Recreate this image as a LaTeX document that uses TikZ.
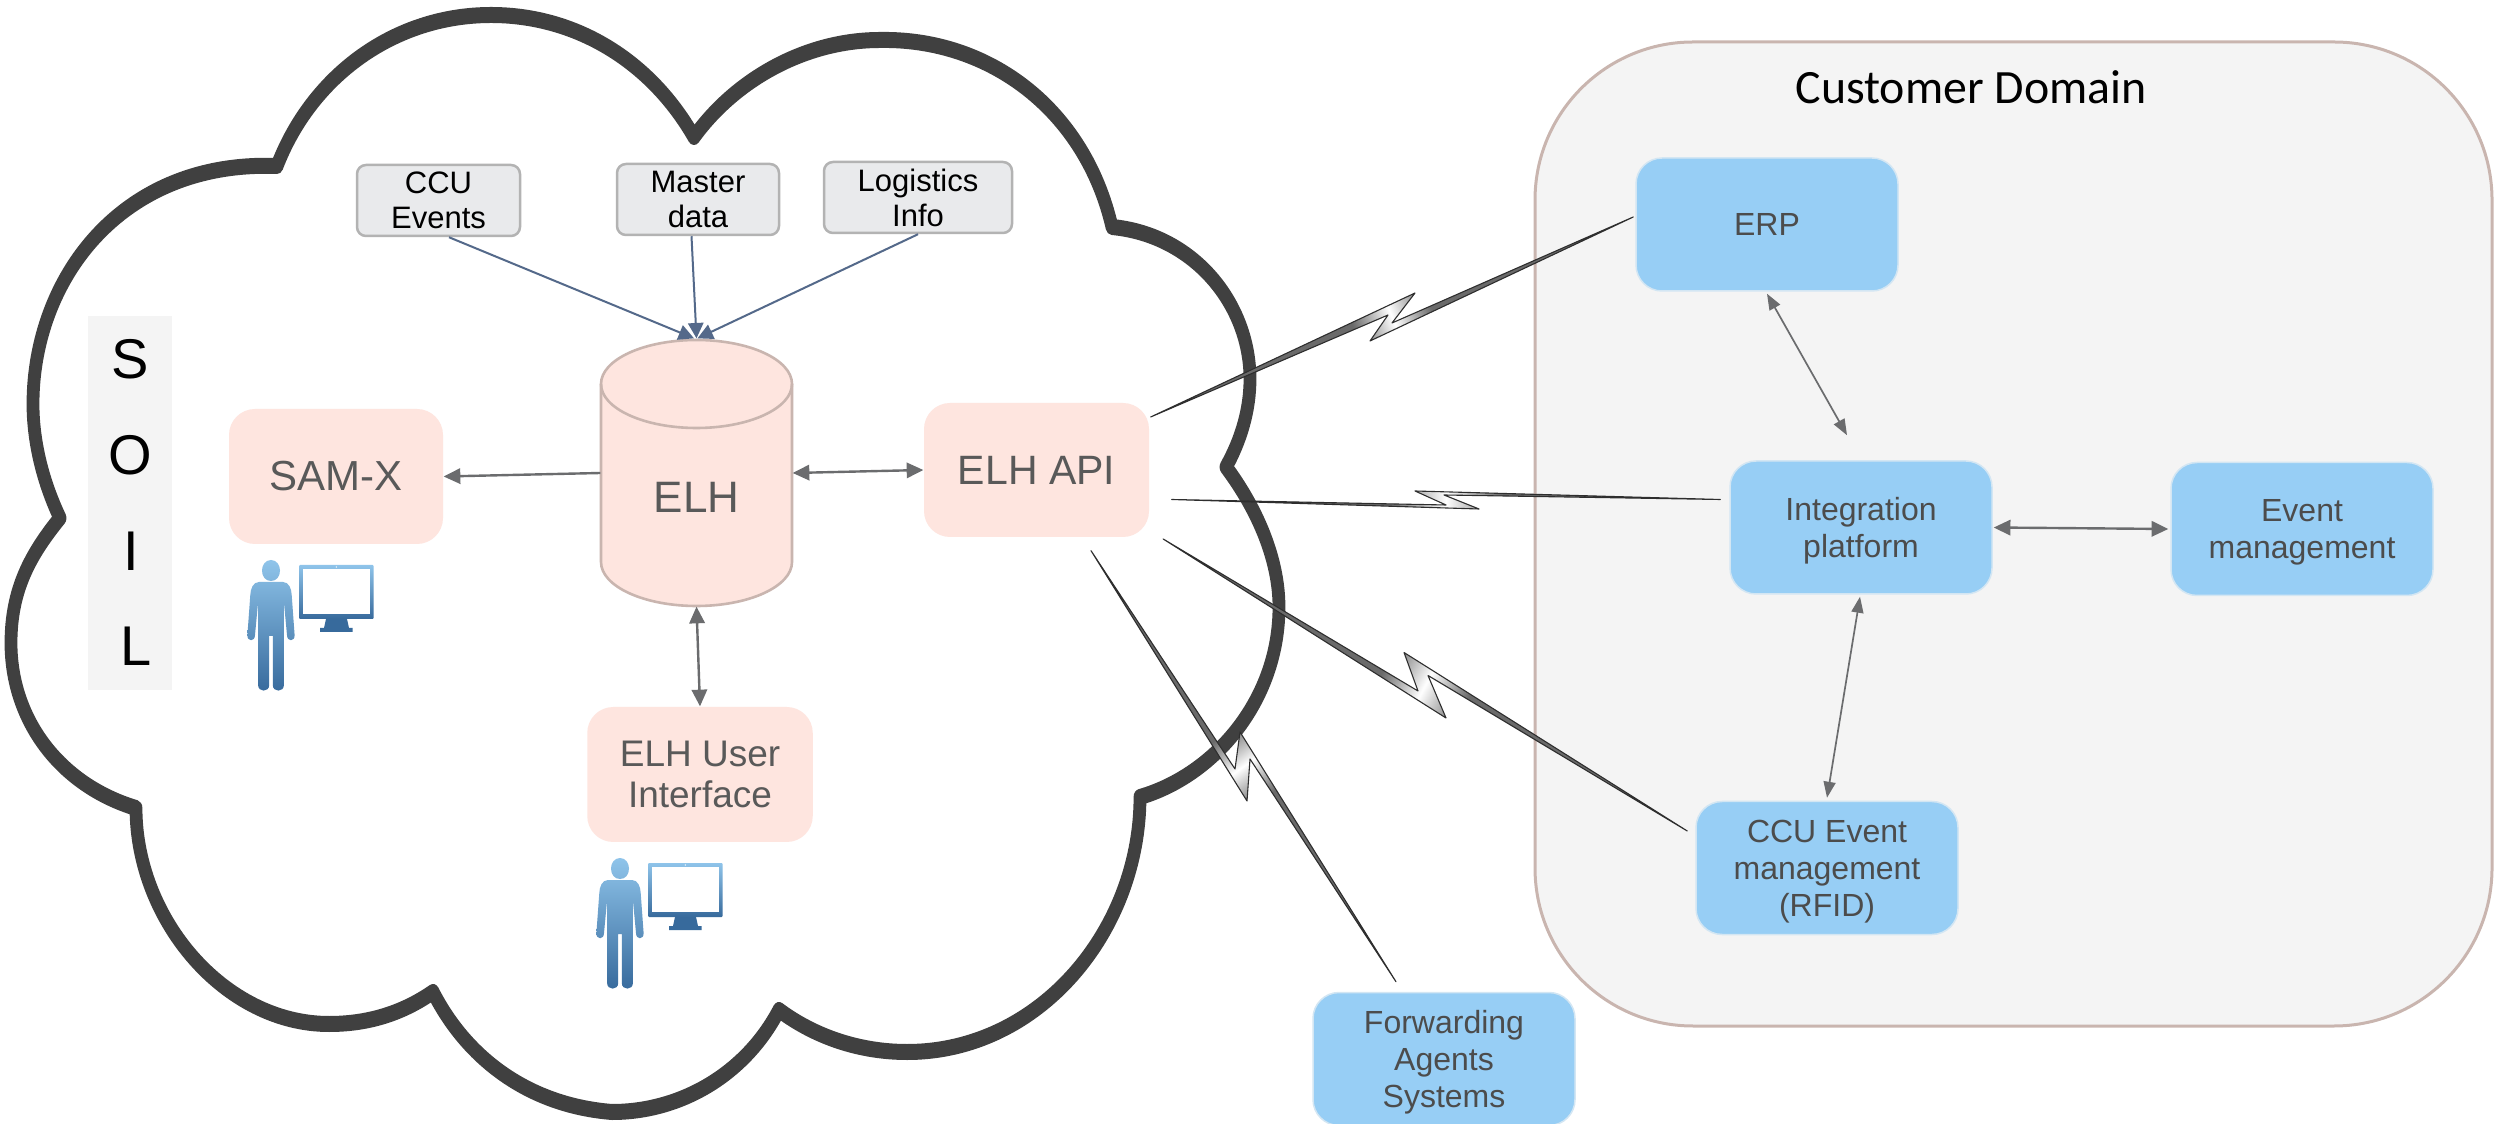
\documentclass[tikz,border=0pt]{standalone}
\usepackage{fontspec}
\setmainfont{Liberation Sans}
\newfontfamily\carlitofont{Carlito}
\usetikzlibrary{arrows.meta,shadings}
\newlength\px
\setlength\px{0.3pt}
\definecolor{cloudgray}{HTML}{404040}
\definecolor{domfill}{HTML}{F4F4F4}
\definecolor{domline}{HTML}{C9B5AF}
\definecolor{pinkfill}{HTML}{FEE5DF}
\definecolor{bluefill}{HTML}{97CEF5}
\definecolor{blueedge}{HTML}{D3E6F3}
\definecolor{greyfill}{HTML}{E9EAEC}
\definecolor{greyedge}{HTML}{B3B3B3}
\definecolor{txtgray}{HTML}{595959}
\definecolor{arrgray}{HTML}{6B6C6E}
\definecolor{arrblue}{HTML}{54698A}
\definecolor{boltdark}{HTML}{6A6A6A}
\definecolor{boltedge}{HTML}{2E2E2E}
\definecolor{usertop}{HTML}{8FC4EA}
\definecolor{userbot}{HTML}{376A9C}
\pgfdeclarehorizontalshading{boltshade}{100bp}{color(0bp)=(boltdark); color(45bp)=(boltdark); color(50bp)=(white); color(55bp)=(boltdark); color(100bp)=(boltdark)}
\tikzset{
  box/.style={rounded corners=26\px,inner sep=0pt,align=center,text=txtgray},
  pinkbox/.style={box,fill=pinkfill},
  bluebox/.style={box,fill=bluefill,draw=blueedge,line width=1.5\px,minimum width=262\px,minimum height=133\px,font=\fontsize{9.6pt}{11.1pt}\selectfont,text=txtgray!85!black},
  greybox/.style={rounded corners=9\px,inner sep=0pt,align=center,fill=greyfill,draw=greyedge,line width=2.5\px,text=black,font=\fontsize{9.3pt}{10.5pt}\selectfont},
  grayarrow/.style={draw=arrgray,line width=2.4\px,{Triangle[length=5pt,width=4.6pt]}-{Triangle[length=5pt,width=4.6pt]}},
  thinarrow/.style={draw=arrgray,line width=1.7\px,{Triangle[length=4.8pt,width=3.6pt]}-{Triangle[length=4.8pt,width=3.6pt]}},
  bluearrow/.style={draw=arrblue,line width=2\px,-{Triangle[length=4.6pt,width=4.6pt]}},
  boltshape/.style={draw=boltedge,line width=1.1\px,line join=round,shade,shading=boltshade},
  soilletter/.style={anchor=base,inner sep=0pt,text=black,font=\fontsize{16.8pt}{18pt}\selectfont},
}
\newcommand\usericon[2]{%
\begin{scope}[shift={(#1,#2)}]
  \path[top color=usertop,bottom color=userbot]
    (0,560) .. controls (5.5,560) and (9,565) .. (9,570.5) .. controls (9,576.5) and (5.5,581) .. (0,581) .. controls (-5.5,581) and (-9,576.5) .. (-9,570.5) .. controls (-9,565) and (-5.5,560) .. (0,560) -- cycle
    (-12,582) -- (12,582) .. controls (18,582) and (20.5,589) .. (20.7,595) -- (23.6,635) .. controls (24,642) and (16,642) .. (16,635) -- (12.9,602) -- (12.9,685) .. controls (12.9,692.5) and (1.8,692.5) .. (1.8,685) -- (1.8,636) -- (-1.8,636) -- (-1.8,685) .. controls (-1.8,692.5) and (-12.9,692.5) .. (-12.9,685) -- (-12.9,602) -- (-16,635) .. controls (-16,642) and (-24,642) .. (-23.6,635) -- (-20.7,595) .. controls (-20.5,589) and (-18,582) .. (-12,582) -- cycle;
  \path[top color=usertop,bottom color=userbot,rounded corners=1\px]
    (28,565) rectangle (102.6,619);
  \fill[white] (32,569) rectangle (99,614);
  \fill[white] (65.4,567) circle (0.7\px);
  \fill[userbot] (55,619) -- (76,619) -- (78,628) -- (81.5,628) -- (81.5,632) -- (49,632) -- (49,628) -- (53,628) -- cycle;
\end{scope}}
\begin{document}
\begin{tikzpicture}[x=\px,y=-\px]
\useasboundingbox (0,0) rectangle (2494,1124);
% customer domain
\node[draw=domline,fill=domfill,line width=3\px,rounded corners=158\px,minimum width=957\px,minimum height=984\px,inner sep=0pt] (domain) at (2013.5,534) {};
\node[inner sep=0pt,text=black,font=\carlitofont\fontsize{14.35pt}{15pt}\selectfont] (domtitle) at (1971,87) {Customer Domain};
% cloud (stroke is a little heavier on its horizontal runs, as in the picture)
\begin{scope}[transform canvas={xscale=0.8},x=1.25\px]
\draw[cloudgray,line width=16\px,line join=round,fill=white]
  (277,166) .. controls (312,75) and (395,15) .. (491,15)
  .. controls (575,15) and (650,60) .. (694,137)
  .. controls (735,80) and (805,40) .. (880,40)
  .. controls (990,38) and (1085,110) .. (1112,227)
  .. controls (1195,235) and (1250,305) .. (1250,379)
  .. controls (1250,410) and (1241,440) .. (1226,467)
  .. controls (1258,510) and (1279,560) .. (1279,607)
  .. controls (1279,700) and (1215,775) .. (1140,797)
  .. controls (1140,930) and (1040,1052) .. (907,1052)
  .. controls (860,1052) and (815,1037) .. (779,1010)
  .. controls (745,1075) and (680,1112) .. (612,1112)
  .. controls (525,1105) and (465,1055) .. (433,992)
  .. controls (400,1015) and (365,1024) .. (329,1024)
  .. controls (225,1024) and (136,920) .. (136,808)
  .. controls (60,785) and (11,720) .. (11,643)
  .. controls (11,590) and (30,555) .. (60,518)
  .. controls (42,480) and (33,440) .. (33,404)
  .. controls (33,280) and (120,160) .. (277,166)
  -- cycle;
\end{scope}
% SOIL
\fill[domfill] (88,316) rectangle (172,690);
\node[soilletter] (soilS) at (130,379) {S};
\node[soilletter] (soilO) at (130,475) {O};
\node[soilletter] (soilI) at (131,571) {I};
\node[soilletter] (soilL) at (136,666) {L};
% inputs
\node[greybox,minimum width=163\px,minimum height=71\px] (ccu) at (438.5,200.5) {CCU\\Events};
\node[greybox,minimum width=162\px,minimum height=71\px] (master) at (698,199.5) {Master\\data};
\node[greybox,minimum width=188\px,minimum height=71\px] (logistics) at (918,197.5) {Logistics\\Info};
% ELH cylinder
\fill[pinkfill] (601,384) rectangle (792,562);
\fill[pinkfill] (696.5,384) ellipse[x radius=95.5,y radius=44];
\fill[pinkfill] (696.5,562) ellipse[x radius=95.5,y radius=44];
\draw[domline,line width=2.6\px] (696.5,384) ellipse[x radius=95.5,y radius=44];
\draw[domline,line width=2.6\px] (601,384) -- (601,562) arc[start angle=180,end angle=0,x radius=95.5,y radius=44] -- (792,384);
\node[anchor=base,inner sep=0pt,minimum width=191\px,text height=173\px,text depth=93\px,text=txtgray,font=\fontsize{13.2pt}{15pt}\selectfont] (elh) at (696.5,513) {ELH};
% pink boxes
\node[pinkbox,minimum width=214\px,minimum height=135\px,font=\fontsize{12.6pt}{15pt}\selectfont] (sam) at (336,476.5) {SAM-X};
\node[pinkbox,minimum width=225\px,minimum height=134\px,font=\fontsize{12.3pt}{15pt}\selectfont] (api) at (1036.5,470) {ELH API};
\node[pinkbox,minimum width=225.5\px,minimum height=135\px,font=\fontsize{11.1pt}{12.45pt}\selectfont,text depth=0pt] (ui) at (700,774.5) {ELH User\\Interface};
% blue boxes
\node[bluebox] (erp) at (1767,224.5) {ERP};
\node[bluebox,text depth=0pt] (integ) at (1861,527.5) {Integration\\platform};
\node[bluebox,text depth=0pt] (event) at (2302,529) {Event\\management};
\node[bluebox,text depth=0pt] (ccuevent) at (1827,868) {CCU Event\\management\\(RFID)};
\node[bluebox,text depth=0pt] (fwd) at (1444,1059) {Forwarding\\Agents\\Systems};
% users
\usericon{271}{0}
\usericon{620}{298}
% connectors
\draw[bluearrow] ([xshift=10.5\px]ccu.south) -- ([xshift=-2.5\px,yshift=1\px]elh.north);
\draw[bluearrow] ([xshift=-6.5\px]master.south) -- ([yshift=1\px]elh.north);
\draw[bluearrow] (logistics.south) -- ([xshift=1\px,yshift=1\px]elh.north);
\draw[draw=arrgray,line width=2.4\px,-{Triangle[length=5pt,width=4.6pt]}] (elh.west) -- (sam.east);
\draw[grayarrow] (elh.east) -- (api.west);
\draw[grayarrow] (elh.south) -- (ui.north);
\draw[thinarrow] ([yshift=-2\px]erp.south) -- ([xshift=-14\px,yshift=25\px]integ.north);
\draw[grayarrow] ([xshift=1\px]integ.east) -- ([xshift=-2\px]event.west);
\draw[thinarrow] ([xshift=-1\px,yshift=-2\px]integ.south) -- ([yshift=3\px]ccuevent.north);
% lightning connectors
\coordinate (b1a) at ([xshift=1\px,yshift=53\px]api.east);
\coordinate (b1b) at ([xshift=-2\px,yshift=7.5\px]erp.west);
\coordinate (b2a) at ([xshift=22\px,yshift=-29.5\px]api.east);
\coordinate (b2b) at ([xshift=-9\px,yshift=28\px]integ.west);
\coordinate (b3a) at ([xshift=13.5\px,yshift=-69\px]api.east);
\coordinate (b3b) at ([xshift=-8\px,yshift=37\px]ccuevent.west);
\coordinate (b4a) at ([xshift=54.5\px,yshift=-13\px]api.south);
\coordinate (b4b) at ([xshift=-48\px,yshift=10\px]fwd.north);
\path[boltshape,shading angle=22.5] (b1a) -- (1415,293) -- (1392,323) -- (b1b) -- (1370,341) -- (1388,315) -- cycle;
\path[boltshape,shading angle=0] (b2a) -- (1479,509) -- (1444,495) -- (b2b) -- (1415,491) -- (1446,505) -- cycle;
\path[boltshape,shading angle=-28.5] (b3a) -- (1446,718) -- (1428,675.5) -- (b3b) -- (1404,652.5) -- (1418,691) -- cycle;
\path[boltshape,shading angle=-55] (b4a) -- (1247,801) -- (1250,759) -- (b4b) -- (1240,732) -- (1235,769) -- cycle;
\end{tikzpicture}
\end{document}
